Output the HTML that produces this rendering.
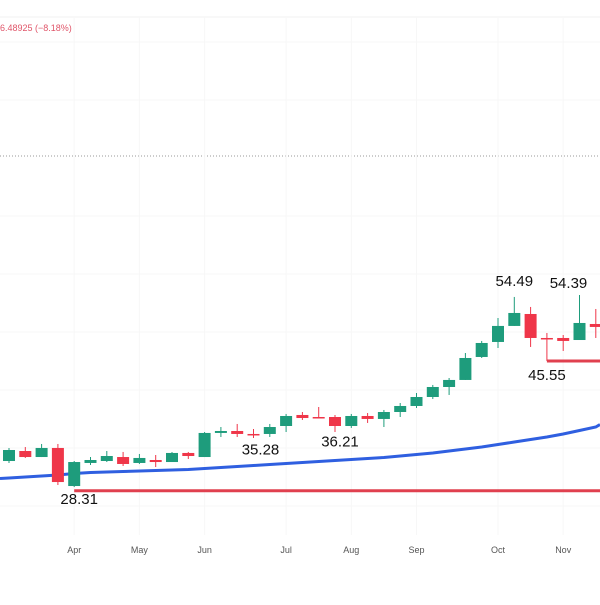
<!DOCTYPE html>
<html><head><meta charset="utf-8"><style>
body{margin:0;background:#fff;width:600px;height:600px;overflow:hidden;font-family:"Liberation Sans",sans-serif}
</style></head><body>
<svg id="c" width="600" height="600" xmlns="http://www.w3.org/2000/svg">
<line x1="0" y1="17" x2="600" y2="17" stroke="#f2f2f2"/>
<text x="0" y="31" font-size="9" fill="#e0566a">6.48925 (−8.18%)</text>
<line x1="0" y1="156" x2="600" y2="156" stroke="#9a9a9a" stroke-dasharray="1,2"/>
<g id="grid"></g><g id="ma"></g><g id="lv"></g><g id="candles"></g><g id="labels"></g><g id="axis"></g>
</svg>
<script>
const opens=[31.75,33.13,32.30,33.55,28.30,31.48,31.75,32.30,31.48,31.89,31.61,32.86,32.30,35.62,35.89,35.48,35.48,36.58,38.10,37.82,37.82,36.58,37.96,37.55,38.51,39.34,40.58,41.96,42.93,46.10,48.17,50.38,52.03,48.72,48.72,48.44,50.65];
const highs=[33.55,33.68,34.10,34.10,31.75,32.30,33.13,33.00,32.72,32.58,33.00,33.00,35.75,36.44,36.86,36.17,36.86,38.24,38.51,39.20,38.10,38.24,38.37,38.79,39.75,41.13,42.24,43.20,46.65,48.31,51.48,54.38,53.00,49.41,49.13,54.65,52.72];
const lows=[31.48,32.17,32.30,28.44,28.16,31.20,31.61,31.06,31.34,30.92,31.61,32.03,32.30,35.06,35.06,34.93,35.06,35.75,37.41,37.68,35.75,36.31,37.00,36.44,37.82,39.06,40.30,40.86,42.93,45.96,47.34,50.38,47.48,45.55,46.93,48.44,48.72];
const closes=[33.27,32.30,33.55,28.85,31.61,31.89,32.44,31.34,32.17,31.61,32.86,32.44,35.62,35.89,35.48,35.44,36.44,37.96,37.68,37.78,36.58,37.96,37.55,38.51,39.34,40.58,41.96,42.93,45.96,48.03,50.38,52.17,48.72,48.65,48.31,50.79,50.24];
const maValues=[29.41,29.54,29.68,29.82,30.03,30.17,30.23,30.30,30.37,30.44,30.51,30.58,30.72,30.85,30.99,31.13,31.27,31.41,31.55,31.68,31.82,31.96,32.10,32.24,32.44,32.65,32.86,33.13,33.41,33.68,34.03,34.37,34.72,35.06,35.48,35.96,36.44];
const monthLabels=["Apr","May","Jun","Jul","Aug","Sep","Oct","Nov"];
const monthIdx=[4,8,12,17,21,25,30,34];
const levels=[{v:27.65,from:4},{v:45.55,from:33}];
const annotations=[{t:"54.49",i:31,v:54.49,dy:-10,dx:0},{t:"54.39",i:35,v:54.39,dy:-9,dx:-11},{t:"45.55",i:33,v:45.55,dy:19,dx:0},{t:"36.21",i:20,v:36.21,dy:18,dx:5},{t:"35.28",i:15,v:35.28,dy:19,dx:7},{t:"28.31",i:4,v:28.31,dy:18,dx:5}];
const NS="http://www.w3.org/2000/svg";
const x=i=>9+i*16.3;
const y=p=>691.2-p*7.25;
function mk(tag,attrs,parent){const e=document.createElementNS(NS,tag);for(const k in attrs)e.setAttribute(k,attrs[k]);document.getElementById(parent).appendChild(e);return e;}
[42,100,216,274,332,390,448,506].forEach(gy=>{const l=mk('line',{x1:0,x2:600,y1:gy,y2:gy,stroke:'#f7f7f7'},'grid');

});
monthIdx.forEach((mi,k)=>{const l=mk('line',{x1:x(mi),x2:x(mi),y1:17,y2:535,stroke:'#f7f7f7'},'grid');


const t=mk('text',{x:x(mi),y:553,'font-size':9,fill:'#555','text-anchor':'middle'},'axis');t.textContent=monthLabels[k];

});
let d="M0 "+y(maValues[0]-0.07);maValues.forEach((v,i)=>d+=" L"+x(i)+" "+y(v));d+=" L600 "+y(maValues[maValues.length-1]+0.35);
const ma=mk('path',{d:d,fill:'none',stroke:'#2f5fe0','stroke-width':3},'ma');


levels.forEach(L=>{const l=mk('line',{x1:x(L.from),x2:600,y1:y(L.v),y2:y(L.v),stroke:'#e0404f','stroke-width':3},'lv');

});
opens.forEach((o,i)=>{const c=closes[i],up=c>=o,col=up?'#1e9c7c':'#ef3649';
const g=mk('g',{},'candles');


const w=document.createElementNS(NS,'line');w.setAttribute('x1',x(i));w.setAttribute('x2',x(i));w.setAttribute('y1',y(highs[i]));w.setAttribute('y2',y(lows[i]));w.setAttribute('stroke',col);g.appendChild(w);
const r=document.createElementNS(NS,'rect');const t=y(Math.max(o,c)),b=y(Math.min(o,c));
r.setAttribute('x',x(i)-6);r.setAttribute('width',12);r.setAttribute('y',t);r.setAttribute('height',Math.max(1.5,b-t));r.setAttribute('fill',col);g.appendChild(r);});
annotations.forEach(a=>{const t=mk('text',{x:x(a.i)+a.dx,y:y(a.v)+a.dy,'font-size':15,fill:'#111','text-anchor':'middle'},'labels');t.textContent=a.t;

});
</script>
</body></html>
